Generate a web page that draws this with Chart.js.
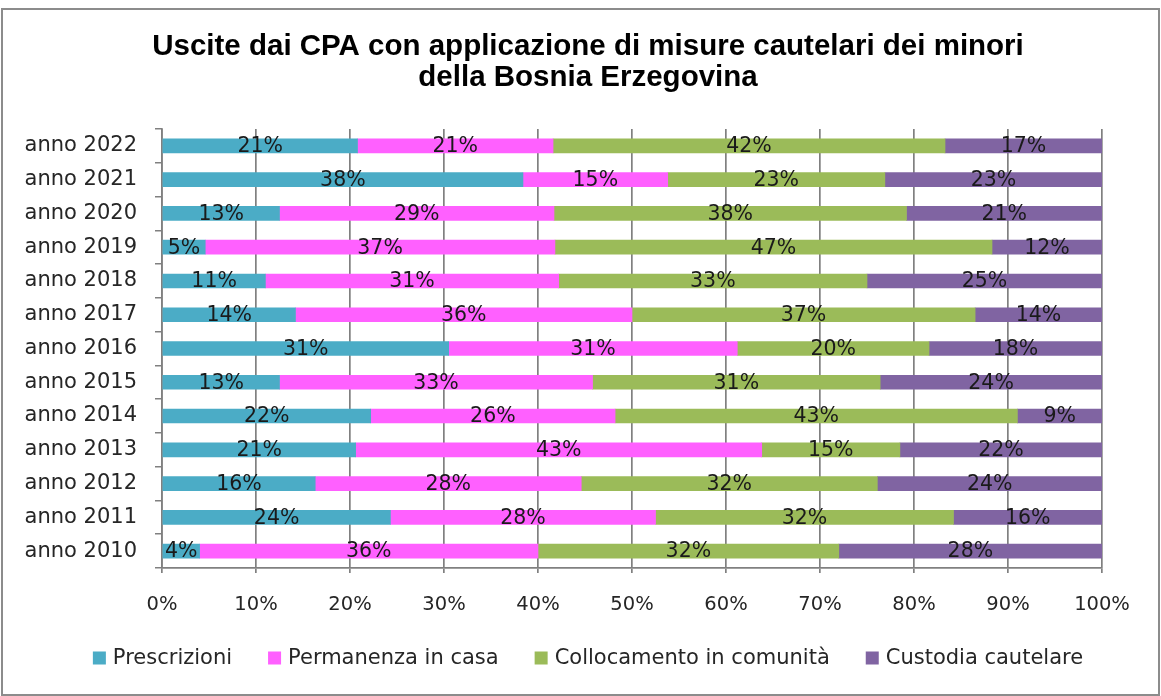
<!DOCTYPE html>
<html>
<head>
<meta charset="utf-8">
<script src="https://cdn.jsdelivr.net/npm/chart.js@4.4.0/dist/chart.umd.min.js"></script>
<style>
  body { margin: 0; background: #fff; }
  #frame {
    position: absolute; left: 1px; top: 8px; width: 1155px; height: 684px;
    border: 2px solid #8c8c8c;
  }
  #c { position: absolute; left: 0; top: 0; }
</style>
</head>
<body>
<div id="frame"></div>
<canvas id="c" width="1161" height="696"></canvas>
<script>
// Uscite dai CPA - misure cautelari minori BiH (quote %)

const years = ["anno 2022", "anno 2021", "anno 2020", "anno 2019", "anno 2018", "anno 2017", "anno 2016",
               "anno 2015", "anno 2014", "anno 2013", "anno 2012", "anno 2011", "anno 2010"];

const prescrizioni = [20.8, 38.4, 12.5, 4.6, 11.0, 14.2, 30.5, 12.5, 22.2, 20.6, 16.3, 24.3, 4.0];
const permanenza   = [20.8, 15.4, 29.2, 37.2, 31.2, 35.8, 30.7, 33.3, 26.0, 43.2, 28.3, 28.2, 36.0];
const collocamento = [41.7, 23.1, 37.5, 46.5, 32.8, 36.5, 20.4, 30.6, 42.8, 14.7, 31.5, 31.7, 32.0];
const custodia     = [16.7, 23.1, 20.8, 11.7, 25.0, 13.5, 18.4, 23.6, 9.0, 21.5, 23.9, 15.8, 28.0];

const xTicks = [0, 10, 20, 30, 40, 50, 60, 70, 80, 90, 100];

const titleLines = ["Uscite dai CPA con applicazione di misure cautelari dei minori",
                    "della Bosnia Erzegovina"];

const GRID = "#808080";
const TXT  = "#262626";
const CENTER_X = 588;   // titolo e legenda centrati sul riquadro, non sull'area del grafico

// etichette percentuali al centro di ogni segmento
const barLabels = {
    id: "barLabels",
    afterDatasetsDraw(chart) {
        const ctx = chart.ctx;
        ctx.save();
        ctx.font = '20.5px "DejaVu Sans"';
        ctx.fillStyle = "#1a1a1a";
        ctx.textAlign = "center";
        ctx.textBaseline = "middle";
        chart.data.datasets.forEach(function(ds, i) {
            chart.getDatasetMeta(i).data.forEach(function(bar, j) {
                const x = (bar.x + bar.base) / 2;
                ctx.fillText(Math.round(ds.data[j]) + "%", x, bar.y + 1);
            });
        });
        ctx.restore();
    }
};

// titolo + legenda disegnati a mano per poterli centrare su CENTER_X
const titleLegend = {
    id: "titleLegend",
    afterDraw(chart) {
        const ctx = chart.ctx;
        ctx.save();
        ctx.fillStyle = "#000";
        ctx.textAlign = "center";
        ctx.textBaseline = "middle";
        ctx.font = 'bold 29.5px "Liberation Sans"';
        ctx.fillText(titleLines[0], CENTER_X, 47);
        ctx.fillText(titleLines[1], CENTER_X, 78);

        ctx.font = '21px "DejaVu Sans"';
        ctx.textAlign = "left";
        const box = 13, gapTxt = 7, gapItem = 36, y = 658;
        const items = chart.data.datasets.map(function(ds) {
            return { label: ds.label, color: ds.backgroundColor, w: ctx.measureText(ds.label).width };
        });
        let total = items.reduce(function(s, it) { return s + box + gapTxt + it.w; }, 0) + gapItem * (items.length - 1);
        let x = CENTER_X - total / 2;
        items.forEach(function(it) {
            ctx.fillStyle = it.color;
            ctx.fillRect(x, y - box / 2, box, box);
            ctx.fillStyle = TXT;
            ctx.fillText(it.label, x + box + gapTxt, y + 1);
            x += box + gapTxt + it.w + gapItem;
        });
        ctx.restore();
    }
};

function mkSet(label, data, color) {
    return {
        label: label,
        data: data,
        backgroundColor: color,
        borderWidth: 0,
        barThickness: 14,
    };
}

new Chart(document.getElementById("c").getContext("2d"), {
    type: "bar",
    data: {
        labels: years,
        datasets: [
            mkSet("Prescrizioni", prescrizioni, "#4BACC6"),
            mkSet("Permanenza in casa", permanenza, "#FF60FF"),
            mkSet("Collocamento in comunità", collocamento, "#9BBB59"),
            mkSet("Custodia cautelare", custodia, "#8064A2"),
        ],
    },
    options: {
        indexAxis: "y",
        responsive: false,
        animation: false,
        devicePixelRatio: 1,
        layout: { padding: { left: 0, right: 59, top: 129, bottom: 76 } },
        plugins: {
            tooltip: { enabled: false },
            title: { display: false },
            legend: { display: false },
        },
        scales: {
            x: {
                stacked: true,
                min: 0,
                max: 100,
                afterBuildTicks: function(scale) { scale.ticks = xTicks.map(function(v) { return { value: v }; }); },
                afterFit: function(scale) { scale.height = 52; },
                ticks: {
                    color: TXT,
                    padding: 20,
                    font: { family: "DejaVu Sans", size: 19.5 },
                    callback: function(v) { return v + "%"; },
                },
                grid: { color: GRID, lineWidth: 1.7, tickLength: 5 },
                border: { color: GRID, width: 1.7 },
            },
            y: {
                stacked: true,
                afterFit: function(scale) { scale.width = 162; },
                ticks: {
                    color: TXT,
                    padding: 18,
                    font: { family: "DejaVu Sans", size: 21 },
                },
                grid: { drawOnChartArea: false, color: GRID, lineWidth: 1.5, tickLength: 7 },
                border: { color: GRID, width: 1.7 },
            },
        },
    },
    plugins: [barLabels, titleLegend],
});
</script>
</body>
</html>
